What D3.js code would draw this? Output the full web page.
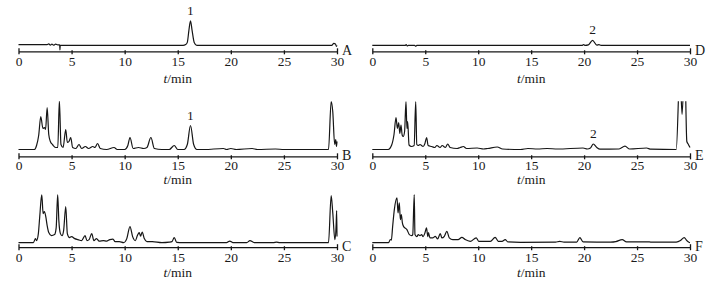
<!DOCTYPE html>
<html>
<head>
<meta charset="utf-8">
<script src="https://cdn.jsdelivr.net/npm/d3@7"></script>
<style>
  body { margin: 0; background: #fff; }
  svg { display: block; }
  text { font-family: "Times New Roman", "Liberation Serif", serif; fill: #1a1a1a; }
</style>
</head>
<body>
<script>
// time axis (min)
var timeTicks = [0, 5, 10, 15, 20, 25, 30];
var panelNames = ["A", "B", "C", "D", "E", "F"];

// traces: [t (min), signal]
var traceA = [[0,0.8],[2.7,0.8],[2.85,1.5],[3.0,0.3],[3.15,1.3],[3.3,0.3],[3.5,1.2],[3.7,0.6],[3.88,0.6],[3.9,-4.5],[3.93,0],
  [15.5,0],[15.75,0.8],[15.9,3],[16.05,15],[16.2,24.6],[16.35,15],[16.55,3],[16.8,0],[29.5,0],[29.7,2],[29.85,1.5],[29.95,-1],[30,0]];

var traceB = [[0,0],[1.5,0],[1.7,4],[1.9,14],[2.1,33],[2.3,21],[2.45,22],[2.55,20],[2.7,42],[2.85,15],[3.0,8],[3.2,5],[3.5,2],[3.7,2],
  [3.85,49],[4.0,5],[4.2,2],[4.45,20],[4.6,7],[4.75,8],[4.92,12],[5.1,2],[5.4,1],[5.7,5],[5.95,1],[6.3,3],[6.6,1],[7.0,3],[7.2,2],
  [7.45,6],[7.7,1],[8.3,0],[9.0,2],[9.3,0],[10.0,0],[10.3,4],[10.5,12],[10.8,1],[11.3,2],[11.8,1],[12.1,2],[12.47,12],[12.8,1],
  [13.5,0],[14.2,0],[14.67,4],[15.0,0],[15.6,0],[15.9,5],[16.2,24],[16.5,5],[16.8,0],[17.5,0],[19.3,1],[19.6,0],[20.0,1],[20.5,0],
  [22.0,1],[22.5,0],[24.2,0.5],[25,0],[29.2,0],[29.45,48],[29.6,38],[29.78,5],[29.88,10],[29.95,3],[30,8]];

var traceC = [[0,0],[1.4,0],[1.6,4],[1.7,2],[1.87,9],[2.0,26],[2.19,48],[2.32,29],[2.44,31],[2.57,26],[2.7,17],[2.85,10],[3.1,7],
  [3.4,8],[3.55,15],[3.69,48],[3.8,22],[3.95,9],[4.1,7],[4.25,12],[4.45,36],[4.6,9],[4.8,5],[5.0,6],[5.3,4],[5.6,3],[5.95,2],
  [6.27,7],[6.45,2],[6.65,3],[6.9,9],[7.1,2],[7.35,4],[7.6,1.5],[8.0,2],[8.3,1.5],[8.6,3],[8.9,3.5],[9.1,1],[9.5,1],[9.9,0],
  [10.2,4],[10.5,16],[10.75,6],[11.0,2],[11.2,7],[11.37,10],[11.5,6.5],[11.65,10.6],[11.85,4],[12.1,1],[12.6,1],[13.5,0],
  [14.2,0.5],[14.45,1],[14.67,5],[14.9,0.3],[15.5,0],[19.6,0],[19.9,1.5],[20.2,0],[21.5,0],[21.8,2],[22.2,0],[24.0,0],[24.3,0.5],
  [24.6,0],[29.2,0],[29.45,47],[29.6,30],[29.8,3],[29.92,18],[29.97,32],[30,6]];

var traceD = [[0,0],[3.1,0],[3.2,0.8],[3.3,-0.5],[3.4,0],[4.0,0],[4.1,-0.8],[4.2,0],[19.8,0],[19.95,0.8],[20.1,0],[20.4,0.5],
  [20.8,5],[21.2,0.3],[21.4,0.8],[21.6,0],[30,0]];

var traceE = [[0,0],[1.5,0],[1.83,4.5],[2.05,15],[2.24,32],[2.37,21],[2.49,27],[2.6,16],[2.71,24.5],[2.82,14.5],[2.92,13],
  [3.05,18],[3.18,48],[3.27,21],[3.34,27.8],[3.47,4.5],[3.7,3],[3.95,4],[4.1,48],[4.2,5],[4.35,4],[4.5,5],[4.8,3],[4.97,6],
  [5.13,12],[5.27,4],[5.6,3],[5.9,2],[6.1,4],[6.4,2],[6.6,4],[6.9,2],[7.12,5.5],[7.35,2],[8.0,1],[8.3,2],[8.6,3],[8.9,1],
  [9.9,1.5],[10.5,0.5],[10.9,1],[11.8,2.5],[12.3,0.5],[14.0,0],[14.7,1],[15.6,0.5],[16.5,1],[17.5,0.5],[19.9,1.5],[20.3,0.5],
  [20.6,1.5],[20.87,5.5],[21.2,2],[21.5,0.3],[23.3,0.5],[23.86,3.3],[24.3,0.5],[25.9,1.5],[26.3,0.3],[28.7,0],[29.05,80],
  [29.25,35],[29.5,90],[29.7,8],[29.85,5],[30,2]];

var traceF = [[0,0],[1.54,0],[1.7,3],[1.8,2.5],[1.92,16],[2.08,33],[2.33,44.7],[2.43,29.7],[2.55,39.7],[2.65,23],[2.74,28],
  [2.84,19.7],[2.96,16],[3.27,13],[3.5,8],[3.72,7],[3.82,8],[3.96,48],[4.03,8],[4.2,6],[4.35,8],[4.5,7],[4.65,8],[4.8,6],
  [4.97,9.7],[5.12,14.7],[5.24,6],[5.3,10],[5.45,4.7],[5.7,4.7],[5.95,6.3],[6.17,3.7],[6.42,9],[6.57,4.7],[6.8,6.3],[7.04,11.3],
  [7.27,4.7],[7.6,3],[8.1,3],[8.46,5.3],[8.77,3],[9.25,1.3],[9.81,4.7],[10.05,1.3],[10.7,1.3],[11.15,1.3],[11.6,5.3],[11.9,1.3],
  [12.25,1.3],[12.55,3],[12.8,0.7],[14.0,0.3],[17.3,0.5],[17.7,1.2],[18.1,0.5],[19.3,0.5],[19.6,5],[19.9,0.8],[22.5,0.5],
  [23.0,1],[23.6,3],[24.0,0.8],[26.0,0.8],[26.3,0.5],[28.7,0.5],[29.1,2],[29.45,5],[29.7,2],[29.9,0.3],[30,0]];

var traces = [traceA, traceB, traceC, traceD, traceE, traceF];

// peak numbers
var peakLabels = [
  {panel: "A", t: 16.2, text: "1"},
  {panel: "B", t: 16.2, text: "1"},
  {panel: "D", t: 20.8, text: "2"},
  {panel: "E", t: 20.87, text: "2"}
];

// layout
var width = 723, height = 285;
var cols = [{x0: 18.5, x1: 337}, {x0: 372.3, x1: 690}];
var rows = [
  {base: 45.4, axis: 51.3, tick: 66.5, title: 83.2},
  {base: 149.5, axis: 156.3, tick: 170, title: 184},
  {base: 242.6, axis: 247.2, tick: 261.6, title: 277.2}
];
var lineColor = "#161616";
var fontStack = "'Times New Roman', 'Liberation Serif', serif";

var svg = d3.select("body").append("svg")
    .attr("width", width)
    .attr("height", height);

svg.append("rect").attr("width", width).attr("height", height).attr("fill", "#fff");

var defs = svg.append("defs");

panelNames.forEach(function(name, i) {
  var col = cols[Math.floor(i / 3)], row = rows[i % 3];

  var x = d3.scaleLinear().domain([0, 30]).range([col.x0, col.x1]);
  var y = d3.scaleLinear().domain([0, 50]).range([row.base, row.base - 50]);

  var g = svg.append("g").attr("class", "panel-" + name);

  defs.append("clipPath").attr("id", "clip" + name)
    .append("rect")
    .attr("x", col.x0 - 2)
    .attr("y", y(48.3))
    .attr("width", col.x1 - col.x0 + 4)
    .attr("height", row.axis - y(48.3));

  var line = d3.line()
    .x(function(d) { return x(d[0]); })
    .y(function(d) { return y(d[1]); })
    .curve(d3.curveMonotoneX);

  g.append("path")
    .datum(traces[i])
    .attr("clip-path", "url(#clip" + name + ")")
    .attr("d", line)
    .attr("fill", "none")
    .attr("stroke", lineColor)
    .attr("stroke-width", 1.2)
    .attr("stroke-linejoin", "round");

  // time axis
  var axis = d3.axisBottom(x)
    .tickValues(timeTicks)
    .tickSize(3)
    .tickSizeOuter(0)
    .tickFormat(d3.format("d"));

  var ax = g.append("g")
    .attr("transform", "translate(0," + row.axis + ")")
    .call(axis);
  ax.attr("font-family", null);
  ax.select(".domain").attr("stroke", lineColor).attr("stroke-width", 1.3);
  ax.selectAll(".tick line")
    .attr("stroke", lineColor)
    .attr("stroke-width", 1.3)
    .attr("y1", function(d) { return (d === 0 || d === 30) ? -3 : -1; });
  ax.selectAll(".tick text")
    .attr("y", row.tick - row.axis)
    .attr("dy", null)
    .style("font-size", "13.5px")
    .style("font-family", fontStack)
    .attr("fill", "#1a1a1a");

  var title = g.append("text")
    .attr("x", (col.x0 + col.x1) / 2)
    .attr("y", row.title)
    .attr("text-anchor", "middle")
    .style("font-size", "13.5px");
  title.append("tspan").style("font-style", "italic").text("t");
  title.append("tspan").text("/min");

  g.append("text")
    .attr("x", col.x1 + 5)
    .attr("y", row.axis + 4)
    .style("font-size", "14px")
    .text(name);

  peakLabels.filter(function(p) { return p.panel === name; }).forEach(function(p) {
    var top = d3.max(traces[i].filter(function(d) { return Math.abs(d[0] - p.t) < 0.3; }), function(d) { return d[1]; });
    g.append("text")
      .attr("x", x(p.t))
      .attr("y", y(top) - 6)
      .attr("text-anchor", "middle")
      .style("font-size", "13.5px")
      .text(p.text);
  });
});
</script>
</body>
</html>
